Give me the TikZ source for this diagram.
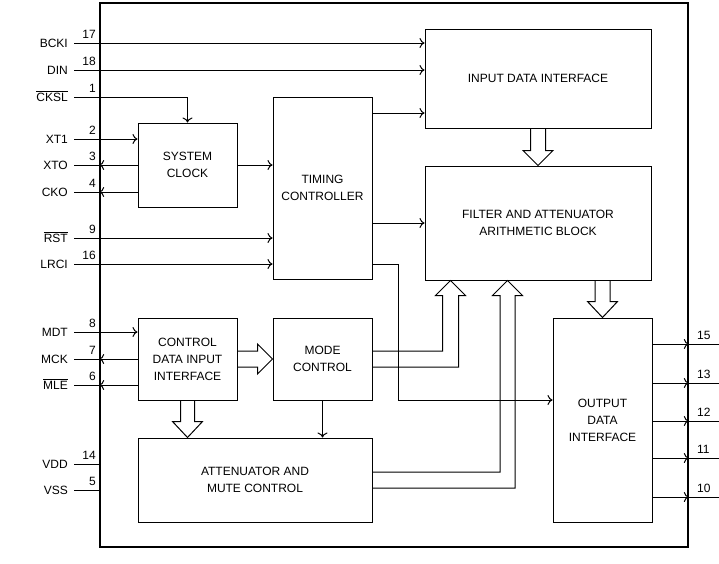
\documentclass[tikz,border=0pt]{standalone}
\usepackage{fontspec}
\setmainfont{Liberation Sans}
\usetikzlibrary{arrows.meta,calc}
\newcommand\lpin[3]{%
  \coordinate (p#1) at (74,#3);
  \node[lbl] (l#1) at (68,#3+4.3) {#2};
  \node[num] (n#1) at (96,#3-4.5) {#1};}
\newcommand\rpin[2]{%
  \coordinate (q#1) at (719,#2);
  \node[rnum] (m#1) at (697,#2-5) {#1};}
\newcommand\ovl[1]{$\overline{\hbox{#1}}$}
\begin{document}
\begin{tikzpicture}[x=1pt,y=-1pt,
  every node/.style={font=\fontsize{12}{17}\selectfont},
  blk/.style={draw,line width=1pt,align=center,inner sep=0pt},
  wire/.style={line width=1pt},
  arr/.style={wire,-{To[length=5pt,width=10pt]}},
  hol/.style={wire,line join=miter},
  lbl/.style={anchor=base east,inner sep=0pt},
  num/.style={anchor=base east,inner sep=0pt},
  rnum/.style={anchor=base west,inner sep=0pt}]
\fill[white] (0,0) rectangle (719,563);
\useasboundingbox (0,0) rectangle (719,563);
\node[draw,line width=1.6pt,minimum width=588pt,minimum height=544pt,inner sep=0pt] (chip) at (394,275) {};
% blocks
\node[blk,minimum width=99pt,minimum height=84pt] (sc) at (187.5,165) {SYSTEM\\CLOCK};
\node[blk,minimum width=99pt,minimum height=182pt] (tc) at (322.5,188) {TIMING\\CONTROLLER};
\node[blk,minimum width=226pt,minimum height=99pt] (idi) at (538,78.5) {INPUT DATA INTERFACE};
\node[blk,minimum width=226pt,minimum height=114pt] (fab) at (538,223) {FILTER AND ATTENUATOR\\ARITHMETIC BLOCK};
\node[blk,minimum width=99pt,minimum height=204pt] (odi) at (602.5,420) {OUTPUT\\DATA\\INTERFACE};
\node[blk,minimum width=99pt,minimum height=82pt] (mc) at (322.5,359) {MODE\\CONTROL};
\node[blk,minimum width=99pt,minimum height=82pt] (cdi) at (187.5,359) {CONTROL\\DATA INPUT\\INTERFACE};
\node[blk,minimum width=234pt,minimum height=84pt] (amc) at (255,480) {ATTENUATOR AND\\MUTE CONTROL};
% pins
\lpin{17}{BCKI}{43}
\lpin{18}{DIN}{70}
\lpin{1}{\ovl{CKSL}}{97}
\lpin{2}{XT1}{139}
\lpin{3}{XTO}{165}
\lpin{4}{CKO}{192}
\lpin{9}{\ovl{RST}}{238}
\lpin{16}{LRCI}{264}
\lpin{8}{MDT}{332}
\lpin{7}{MCK}{359}
\lpin{6}{\ovl{MLE}}{385}
\lpin{14}{VDD}{464}
\lpin{5}{VSS}{490}
\rpin{15}{344}
\rpin{13}{383}
\rpin{12}{421}
\rpin{11}{458}
\rpin{10}{497}
% input connectors
\draw[arr] (p17) -- (p17 -| idi.west);
\draw[arr] (p18) -- (p18 -| idi.west);
\draw[arr] (p1) -| (sc.north);
\draw[arr] (p2) -- (p2 -| sc.west);
\draw[wire] (p3) -- (p3 -| sc.west);
\draw[arr] (p3 -| sc.west) -- (p3 -| chip.west);
\draw[wire] (p4) -- (p4 -| sc.west);
\draw[arr] (p4 -| sc.west) -- (p4 -| chip.west);
\draw[arr] (p9) -- (p9 -| tc.west);
\draw[arr] (p16) -- (p16 -| tc.west);
\draw[arr] (p8) -- (p8 -| cdi.west);
\draw[wire] (p7) -- (p7 -| cdi.west);
\draw[arr] (p7 -| cdi.west) -- (p7 -| chip.west);
\draw[wire] (p6) -- (p6 -| cdi.west);
\draw[arr] (p6 -| cdi.west) -- (p6 -| chip.west);
\draw[wire] (p14) -- (p14 -| chip.west);
\draw[wire] (p5) -- (p5 -| chip.west);
% outputs
\foreach \k in {15,13,12,11,10}{
  \draw[wire] (q\k -| odi.east) -- (q\k);
  \draw[arr] (q\k -| odi.east) -- (q\k -| chip.east);
}
% internal
\draw[arr] (sc.east) -- (sc.east -| tc.west);
\draw[arr] (tc.east |- 0,113) -- (idi.west |- 0,113);
\draw[arr] (fab.west -| tc.east) -- (fab.west);
\draw[arr] (tc.east |- 0,264) -- ++(26,0) |- (odi.west |- 0,400);
\draw[arr] (mc.south) -- (mc.south |- amc.north);
% hollow arrows
\draw[hol] ($(idi.south)+(-7.5,0)$) -- ($(fab.north)+(-7.5,-15)$) -- ($(fab.north)+(-15,-15)$) -- (fab.north) -- ($(fab.north)+(15,-15)$) -- ($(fab.north)+(7.5,-15)$) -- ($(idi.south)+(7.5,0)$);
\draw[hol] ($(fab.south -| odi.north)+(-7.5,0)$) -- ($(odi.north)+(-7.5,-16)$) -- ($(odi.north)+(-15,-16)$) -- (odi.north) -- ($(odi.north)+(15,-16)$) -- ($(odi.north)+(7.5,-16)$) -- ($(fab.south -| odi.north)+(7.5,0)$);
\draw[hol] ($(cdi.south)+(-7,0)$) -- ($(cdi.south |- amc.north)+(-7,-16)$) -- ($(cdi.south |- amc.north)+(-15,-16)$) -- (cdi.south |- amc.north) -- ($(cdi.south |- amc.north)+(15,-16)$) -- ($(cdi.south |- amc.north)+(7,-16)$) -- ($(cdi.south)+(7,0)$);
\draw[hol] ($(cdi.east)+(0,-8)$) -- ($(mc.west)+(-15,-8)$) -- ($(mc.west)+(-15,-15)$) -- (mc.west) -- ($(mc.west)+(-15,15)$) -- ($(mc.west)+(-15,8)$) -- ($(cdi.east)+(0,8)$);
\coordinate (h1) at ($(fab.south west)+(26,0)$);
\coordinate (h2) at ($(fab.south west)+(83,0)$);
\draw[hol] ($(mc.east)+(0,-8)$) -| ($(h1)+(-8,15)$) -- ($(h1)+(-15,15)$) -- (h1) -- ($(h1)+(15,15)$) -- ($(h1)+(8,15)$) |- ($(mc.east)+(0,8)$);
\draw[hol] ($(amc.east)+(0,-8)$) -| ($(h2)+(-7.5,15)$) -- ($(h2)+(-15,15)$) -- (h2) -- ($(h2)+(15,15)$) -- ($(h2)+(7.5,15)$) |- ($(amc.east)+(0,8)$);
\end{tikzpicture}
\end{document}
